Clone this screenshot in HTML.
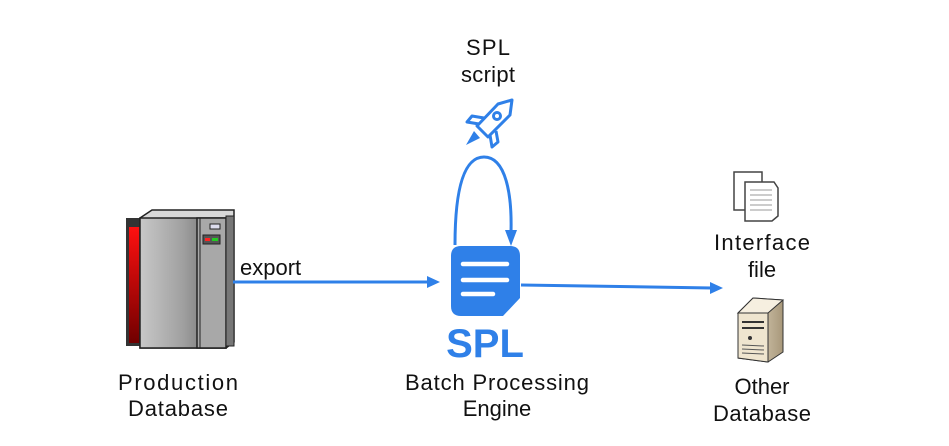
<!DOCTYPE html>
<html><head><meta charset="utf-8"><style>
html,body{margin:0;padding:0;background:#fff;width:949px;height:446px;overflow:hidden}
text{font-family:"Liberation Sans","DejaVu Sans",sans-serif;font-size:22px;fill:#111}
</style></head><body>
<svg width="949" height="446" viewBox="0 0 949 446" xmlns="http://www.w3.org/2000/svg">
<defs>
<linearGradient id="g1" x1="0" x2="1"><stop offset="0" stop-color="#c8c8c8"/><stop offset="0.5" stop-color="#a0a0a0"/><stop offset="1" stop-color="#606060"/></linearGradient>
<linearGradient id="r1" x1="0" y1="0" x2="0" y2="1"><stop offset="0" stop-color="#ff1010"/><stop offset="1" stop-color="#700000"/></linearGradient>
<linearGradient id="b1" x1="0" x2="1"><stop offset="0" stop-color="#f3ead8"/><stop offset="1" stop-color="#a8987a"/></linearGradient>
</defs>
<rect x="126" y="218" width="18" height="128" fill="#333"/>
<rect x="129" y="227" width="13" height="116" fill="url(#r1)"/>
<polygon points="140,218 152,210 234,210 234,342 226,348 140,348" fill="#d8d8d8" stroke="#222" stroke-width="1.5"/>
<rect x="140" y="218" width="86" height="130" fill="url(#g1)" stroke="#222" stroke-width="1.5"/>
<rect x="197" y="218" width="29" height="130" fill="#a8a8a8" stroke="#222" stroke-width="1.5"/>
<line x1="200" y1="218" x2="200" y2="348" stroke="#222"/>
<rect x="210" y="224" width="10" height="5" fill="#dde" stroke="#222"/>
<rect x="203" y="235" width="17" height="9" fill="#555" stroke="#222"/>
<rect x="205" y="238" width="5" height="3" fill="#f22"/><rect x="212" y="238" width="6" height="3" fill="#2c2"/>
<rect x="226" y="216" width="8" height="130" fill="#777" stroke="#222"/>
<line x1="233" y1="282" x2="430" y2="282" stroke="#2f80e8" stroke-width="3"/>
<polygon points="440,282 427,276 427,288" fill="#2f80e8"/>
<text x="240" y="275">export</text>
<path d="M461,246 H510 Q520,246 520,256 V298 L503,316 H461 Q451,316 451,306 V256 Q451,246 461,246 Z" fill="#2f80e8"/>
<g stroke="#fff" stroke-width="4.5" stroke-linecap="round"><line x1="463" y1="264" x2="507" y2="264"/><line x1="463" y1="280" x2="507" y2="280"/><line x1="463" y1="294" x2="493" y2="294"/></g>
<text x="485" y="357" text-anchor="middle" style="font-size:40px;font-weight:bold;fill:#2f80e8">SPL</text>
<path d="M455,245 C455,195 462,157 484,157 C506,157 512,195 511,232" fill="none" stroke="#2f80e8" stroke-width="3"/>
<polygon points="511,246 505,230 517,230" fill="#2f80e8"/>
<g fill="none" stroke="#2f80e8" stroke-width="3" stroke-linejoin="round">
<path d="M512,100 L498,104 L477,126 L488,137 L510,115 Z"/>
<circle cx="497" cy="116" r="3.5"/>
<path d="M479,124 L467,122 L472,116 L484,118"/>
<path d="M490,135 L492,147 L498,142 L496,131"/>
</g>
<path d="M474,131 L466,145 L480,138 Z" fill="#2f80e8"/>
<text x="488" y="55" text-anchor="middle" textLength="44">SPL</text>
<text x="488" y="82" text-anchor="middle" textLength="54">script</text>
<line x1="521" y1="285" x2="712" y2="288" stroke="#2f80e8" stroke-width="3"/>
<polygon points="723,288 710,282 710,294" fill="#2f80e8"/>
<g stroke="#444" stroke-width="1.5">
<rect x="734" y="172" width="28" height="38" fill="#fff"/>
<path d="M745,182 H774 L778,188 V216 L772,221 H745 Z" fill="#fff"/>
<g stroke="#999" stroke-width="1"><line x1="750" y1="190" x2="772" y2="190"/><line x1="750" y1="195" x2="772" y2="195"/><line x1="750" y1="200" x2="772" y2="200"/><line x1="750" y1="205" x2="772" y2="205"/><line x1="750" y1="210" x2="772" y2="210"/></g>
</g>
<text x="762" y="250" text-anchor="middle" textLength="96">Interface</text>
<text x="762" y="277" text-anchor="middle">file</text>
<polygon points="738,313 753,298 783,300 783,352 768,362 738,358" fill="url(#b1)" stroke="#333" stroke-width="1"/>
<polygon points="738,313 753,298 783,300 768,313" fill="#f6efe0" stroke="#333" stroke-width="1"/>
<polygon points="738,313 768,313 768,362 738,358" fill="#efe5cf" stroke="#333" stroke-width="1"/>
<line x1="742" y1="322" x2="764" y2="322" stroke="#333" stroke-width="2"/>
<line x1="742" y1="328" x2="764" y2="328" stroke="#333" stroke-width="2"/>
<circle cx="750" cy="338" r="2" fill="#333"/>
<g stroke="#555"><line x1="742" y1="345" x2="764" y2="346"/><line x1="742" y1="349" x2="764" y2="350"/><line x1="742" y1="353" x2="764" y2="354"/></g>
<text x="762" y="394" text-anchor="middle">Other</text>
<text x="762" y="421" text-anchor="middle" textLength="98">Database</text>
<text x="178" y="390" text-anchor="middle" textLength="120">Production</text>
<text x="178" y="416" text-anchor="middle" textLength="100">Database</text>
<text x="497" y="390" text-anchor="middle" textLength="184">Batch Processing</text>
<text x="497" y="416" text-anchor="middle">Engine</text>
</svg>
</body></html>
